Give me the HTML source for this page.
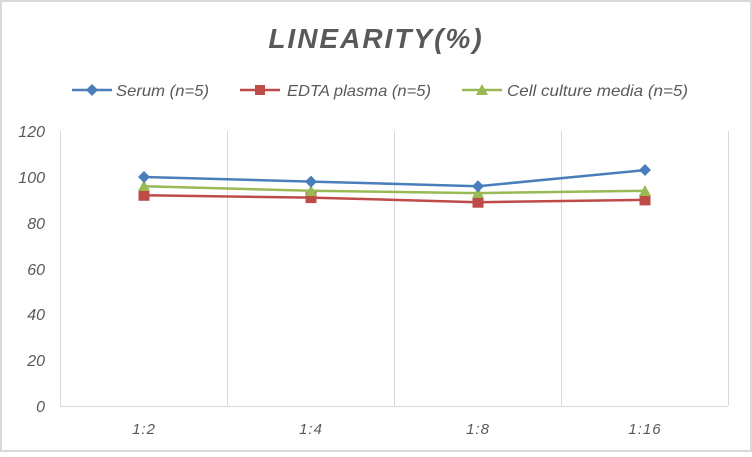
<!DOCTYPE html>
<html><head><style>
body{margin:0;background:#fff}
svg text{font-family:"Liberation Sans",sans-serif;font-style:italic;fill:#595959}
</style></head><body>
<svg width="752" height="452" viewBox="0 0 752 452" xmlns="http://www.w3.org/2000/svg">
<rect x="1" y="1" width="750" height="450" fill="#fff" stroke="#d9d9d9" stroke-width="2"/>
<text x="376" y="48" text-anchor="middle" font-size="28" font-weight="bold" letter-spacing="2">LINEARITY(%)</text>
<g font-size="16">
<line x1="72" y1="90" x2="112" y2="90" stroke="#4a7ebb" stroke-width="2.5"/>
<path d="M92 84 L98 90 L92 96 L86 90Z" fill="#4a7ebb"/>
<text x="116" y="96" textLength="93" lengthAdjust="spacingAndGlyphs">Serum (n=5)</text>
<line x1="240" y1="90" x2="280" y2="90" stroke="#be4b48" stroke-width="2.5"/>
<rect x="255" y="85" width="10" height="10" fill="#be4b48"/>
<text x="287" y="96" textLength="144" lengthAdjust="spacingAndGlyphs">EDTA plasma (n=5)</text>
<line x1="462" y1="90" x2="502" y2="90" stroke="#98b954" stroke-width="2.5"/>
<path d="M482 84 L488 95 L476 95Z" fill="#98b954"/>
<text x="507" y="96" textLength="181" lengthAdjust="spacingAndGlyphs">Cell culture media (n=5)</text>
</g>
<g stroke="#d9d9d9" stroke-width="1">
<line x1="60.5" y1="131" x2="60.5" y2="406"/>
<line x1="227.5" y1="131" x2="227.5" y2="406"/>
<line x1="394.5" y1="131" x2="394.5" y2="406"/>
<line x1="561.5" y1="131" x2="561.5" y2="406"/>
<line x1="728.5" y1="131" x2="728.5" y2="406"/>
<line x1="60" y1="406.5" x2="728" y2="406.5"/>
</g>
<g font-size="16" text-anchor="end">
<text x="45" y="137">120</text><text x="45" y="183">100</text><text x="45" y="229">80</text>
<text x="45" y="275">60</text><text x="45" y="320">40</text><text x="45" y="366">20</text><text x="45" y="412">0</text>
</g>
<g font-size="15" text-anchor="middle" letter-spacing="1">
<text x="144" y="434">1:2</text><text x="311" y="434">1:4</text><text x="478" y="434">1:8</text><text x="645" y="434">1:16</text>
</g>
<polyline points="144,195.3 311,197.6 478,202.2 645,199.9" fill="none" stroke="#be4b48" stroke-width="2.5"/>
<g fill="#be4b48"><rect x="138.5" y="189.8" width="11" height="11"/><rect x="305.5" y="192.1" width="11" height="11"/><rect x="472.5" y="196.7" width="11" height="11"/><rect x="639.5" y="194.4" width="11" height="11"/></g>
<polyline points="144,186.2 311,190.8 478,193.1 645,190.8" fill="none" stroke="#98b954" stroke-width="2.5"/>
<g fill="#98b954"><path d="M144 180 L150 191 L138 191Z"/><path d="M311 185 L317 196 L305 196Z"/><path d="M478 187 L484 198 L472 198Z"/><path d="M645 185 L651 196 L639 196Z"/></g>
<polyline points="144,177 311,181.6 478,186.2 645,170.1" fill="none" stroke="#4a7ebb" stroke-width="2.5"/>
<g fill="#4a7ebb"><path d="M144 171 L150 177 L144 183 L138 177Z"/><path d="M311 175.6 L317 181.6 L311 187.6 L305 181.6Z"/><path d="M478 180.2 L484 186.2 L478 192.2 L472 186.2Z"/><path d="M645 164 L651 170 L645 176 L639 170Z"/></g>
</svg>
</body></html>
